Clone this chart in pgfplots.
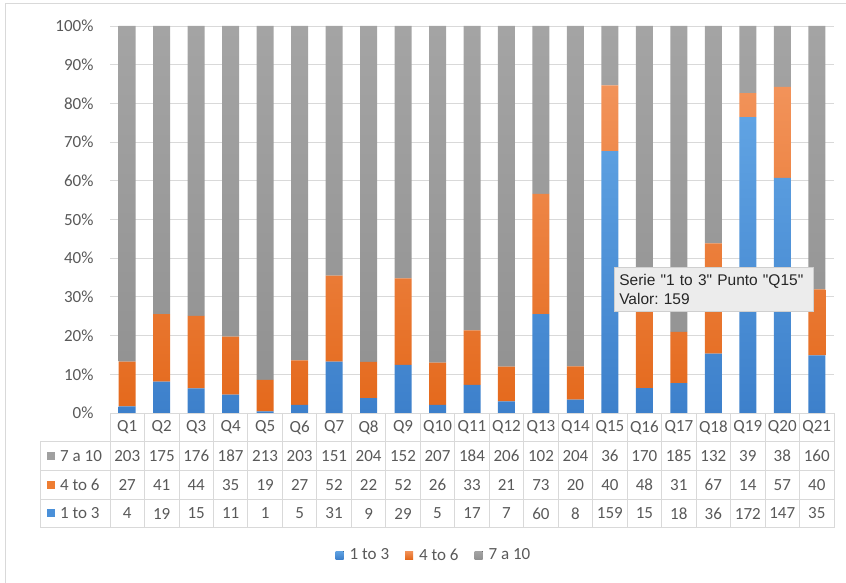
\documentclass[border=0pt]{standalone}
\usepackage{pgfplots}
\pgfplotsset{compat=1.18}
\usepackage{pgfplotstable}
\usepackage{fontspec}
\setmainfont{Carlito}
\newfontfamily\tipfont{Liberation Sans}
\definecolor{txt}{HTML}{595959}
\definecolor{gridc}{HTML}{D9D9D9}
\definecolor{frame}{HTML}{D9D9D9}
\definecolor{blueT}{HTML}{60A3E3}
\definecolor{blueB}{HTML}{3D80CB}
\definecolor{orgT}{HTML}{F2935A}
\definecolor{orgB}{HTML}{E4691C}
\definecolor{grayT}{HTML}{A4A4A4}
\definecolor{grayB}{HTML}{929292}
\definecolor{blueS}{HTML}{4A90D9}
\definecolor{orgS}{HTML}{EE7D32}
\definecolor{grayS}{HTML}{A0A0A0}
\definecolor{tipbg}{HTML}{ECECEC}
\definecolor{tipbd}{HTML}{CFCFCF}

\pgfplotstableread{
q a b c
0 4 27 203
1 19 41 175
2 15 44 176
3 11 35 187
4 1 19 213
5 5 27 203
6 31 52 151
7 9 22 204
8 29 52 152
9 5 26 207
10 17 33 184
11 7 21 206
12 60 73 102
13 8 20 204
14 159 40 36
15 15 48 170
16 18 31 185
17 36 67 132
18 172 14 39
19 147 57 38
20 35 40 160
}\data

\begin{document}
\frenchspacing
\begin{tikzpicture}[x=1pt,y=1pt]
\path[use as bounding box] (0,0) rectangle (846,583);
\draw[frame, line width=1pt] (5,0) -- (5,579) -- (846,579);
\begin{axis}[
  at={(110pt,170pt)}, anchor=south west,
  width=724pt, height=387pt, scale only axis,
  ybar stacked, bar width=17pt,
  xmin=-0.5, xmax=20.5, ymin=0, ymax=100,
  xtick=\empty,
  ytick={0,10,...,100},
  yticklabels={0\%,10\%,20\%,30\%,40\%,50\%,60\%,70\%,80\%,90\%,100\%},
  yticklabel style={font=\fontsize{17}{20}\selectfont, text=txt, xshift=-13pt},
  ymajorgrids, grid style={gridc, line width=0.9pt},
  axis line style={draw=none},
  major tick length=0pt,
  clip=false,
  legend columns=3,
  legend style={at={(0.4475,-0.367)}, anchor=center, draw=none, fill=none,
    font=\fontsize{17}{20}\selectfont, text=txt,
    /tikz/every odd column/.append style={column sep=4pt},
    /tikz/every even column/.append style={column sep=14pt}},
  legend image code/.code={\fill[#1] (0pt,-4pt) rectangle (8pt,4pt);},
]
\addplot[draw=none, top color=blueT, bottom color=blueB] table[x=q, y expr={100*\thisrow{a}/(\thisrow{a}+\thisrow{b}+\thisrow{c})}]{\data};
\addplot[draw=none, top color=orgT, bottom color=orgB] table[x=q, y expr={100*\thisrow{b}/(\thisrow{a}+\thisrow{b}+\thisrow{c})}]{\data};
\addplot[draw=none, top color=grayT, bottom color=grayB] table[x=q, y expr={100*\thisrow{c}/(\thisrow{a}+\thisrow{b}+\thisrow{c})}]{\data};
\legend{1 to 3, 4 to 6, 7 a 10}
\end{axis}

% data table grid
\begin{scope}[gridc, line width=0.9pt]
\draw (110,170) -- (834,170);
\foreach \yy in {141.3,112.7,83.7,55.3} \draw (40,\yy) -- (834,\yy);
\foreach \k in {0,...,21} \draw ({110+34.476*\k},170) -- ({110+34.476*\k},55.3);
\draw (40,141.3) -- (40,55.3);
\end{scope}
\begin{scope}[every node/.style={font=\fontsize{17}{20}\selectfont, text=txt, inner sep=0pt}]
\foreach \v [count=\i from 0] in {Q1,Q2,Q3,Q4,Q5,Q6,Q7,Q8,Q9,Q10,Q11,Q12,Q13,Q14,Q15,Q16,Q17,Q18,Q19,Q20,Q21}
  \node at ({110+34.476*(\i+0.5)},155.6) {\v};
\foreach \v [count=\i from 0] in {203,175,176,187,213,203,151,204,152,207,184,206,102,204,36,170,185,132,39,38,160}
  \node at ({110+34.476*(\i+0.5)},127) {\v};
\foreach \v [count=\i from 0] in {27,41,44,35,19,27,52,22,52,26,33,21,73,20,40,48,31,67,14,57,40}
  \node at ({110+34.476*(\i+0.5)},98.2) {\v};
\foreach \v [count=\i from 0] in {4,19,15,11,1,5,31,9,29,5,17,7,60,8,159,15,18,36,172,147,35}
  \node at ({110+34.476*(\i+0.5)},69.5) {\v};
\fill[grayS] (47,123) rectangle (55,131);
\node[anchor=west] at (60,127) {7 a 10};
\fill[orgS] (47,94.2) rectangle (55,102.2);
\node[anchor=west] at (60,98.2) {4 to 6};
\fill[blueS] (47,65.5) rectangle (55,73.5);
\node[anchor=west] at (60,69.5) {1 to 3};
\end{scope}

% tooltip
\node[fill=tipbg, draw=tipbd, line width=0.6pt, anchor=north west, minimum width=199pt, minimum height=44pt,
  inner xsep=5pt, inner ysep=4pt, align=left, text width=189pt,
  font=\tipfont\fontsize{15.5}{18.5}\selectfont, text=black!85] at (614,316)
  {Serie "1 to 3" Punto "Q15"\\Valor: 159};
\end{tikzpicture}
\end{document}
